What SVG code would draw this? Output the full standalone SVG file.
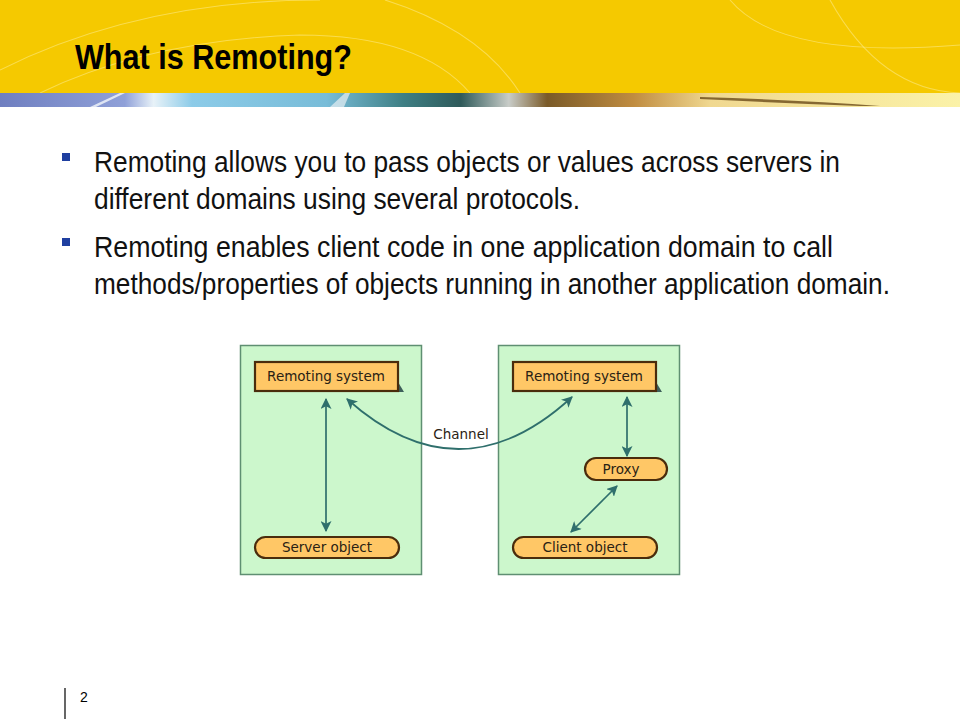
<svg xmlns="http://www.w3.org/2000/svg" width="960" height="720" viewBox="0 0 960 720">
<defs>
<style>
.title{font-family:"Liberation Sans",Arial,sans-serif;font-weight:bold;font-size:35px;fill:#000}
.body{font-family:"Liberation Sans",Arial,sans-serif;font-size:29px;fill:#111}
.lbl{font-family:"DejaVu Sans",Verdana,sans-serif;font-size:13.5px;fill:#2a2214;text-anchor:middle}
.dom{fill:#ccf7cc;stroke:#5f8f72;stroke-width:1.5}
.node{fill:#ffc766;stroke:#4a2c0c;stroke-width:2.2}
.shadow{fill:#3d5f5a}
.conn{fill:none;stroke:#2f6f6c;stroke-width:1.7}
.bullet{fill:#1f3fa0}
.arc{fill:none;stroke:#fff3b0;stroke-width:1.1;opacity:0.45}
</style>
<marker id="ah" viewBox="0 0 10 10" refX="9" refY="5" markerWidth="11" markerHeight="11" markerUnits="userSpaceOnUse" orient="auto-start-reverse">
<path d="M0,0 L10,5 L0,10 L2.5,5 Z" fill="#2f6f6c"/>
</marker>
<linearGradient id="strip" x1="0" y1="0" x2="1" y2="0">
<stop offset="0" stop-color="#6f7fc0"/>
<stop offset="0.13" stop-color="#8fa0d8"/>
<stop offset="0.16" stop-color="#e8f2f8"/>
<stop offset="0.2" stop-color="#8ccbe8"/>
<stop offset="0.34" stop-color="#78bcd8"/>
<stop offset="0.42" stop-color="#3e7f84"/>
<stop offset="0.48" stop-color="#2f5a5a"/>
<stop offset="0.53" stop-color="#c8ccc8"/>
<stop offset="0.57" stop-color="#7a5a28"/>
<stop offset="0.66" stop-color="#c08c40"/>
<stop offset="0.74" stop-color="#f0d890"/>
<stop offset="1" stop-color="#fbf2a8"/>
</linearGradient>
</defs>
<rect width="960" height="720" fill="#fff"/>
<g id="header">
<rect x="0" y="0" width="960" height="94" fill="#f5c900"/>
<path class="arc" d="M40,93 Q150,40 300,35 Q420,35 470,93"/>
<path class="arc" d="M0,70 Q140,0 320,0"/>
<path class="arc" d="M385,0 Q480,30 520,93"/>
<path class="arc" d="M730,0 Q780,60 960,45"/>
<path class="arc" d="M830,0 Q880,90 960,93"/>
<rect x="0" y="93" width="960" height="14" fill="url(#strip)"/>
<path d="M700,97 Q800,100 880,106 L860,106 Q780,103 700,99 Z" fill="#6a4a18" opacity="0.8"/>
<path d="M90,107 L120,93 L125,93 L96,107 Z" fill="#f4f8fb" opacity="0.8"/>
<path d="M330,107 L345,93 L350,93 L344,107 Z" fill="#e8f0f4" opacity="0.7"/>
<text class="title" x="75" y="69" textLength="277" lengthAdjust="spacingAndGlyphs">What is Remoting?</text>
</g>
<g id="bullets">
<rect class="bullet" x="62" y="153" width="8" height="8"/>
<rect class="bullet" x="62" y="238" width="8" height="8"/>
<text class="body" x="94" y="172" textLength="746" lengthAdjust="spacingAndGlyphs">Remoting allows you to pass objects or values across servers in</text>
<text class="body" x="94" y="209" textLength="486" lengthAdjust="spacingAndGlyphs">different domains using several protocols.</text>
<text class="body" x="94" y="257" textLength="739" lengthAdjust="spacingAndGlyphs">Remoting enables client code in one application domain to call</text>
<text class="body" x="94" y="294" textLength="796" lengthAdjust="spacingAndGlyphs">methods/properties of objects running in another application domain.</text>
</g>
<g id="server-domain"><rect class="dom" x="240.5" y="345.5" width="181" height="229"/></g>
<g id="client-domain"><rect class="dom" x="498.5" y="345.5" width="181" height="229"/></g>
<g id="connectors">
<line class="conn" x1="326" y1="399" x2="326" y2="531" marker-start="url(#ah)" marker-end="url(#ah)"/>
<line class="conn" x1="627" y1="397" x2="627" y2="456" marker-start="url(#ah)" marker-end="url(#ah)"/>
<line class="conn" x1="617" y1="486" x2="571" y2="532" marker-start="url(#ah)" marker-end="url(#ah)"/>
<path class="conn" d="M347,399 Q460,500 572,397" marker-start="url(#ah)" marker-end="url(#ah)"/>
<text class="lbl" x="461" y="439">Channel</text>
</g>
<g id="remoting-system-server">
<path class="shadow" d="M398,382 L404,392 L392,392 Z"/>
<rect class="node" x="255" y="362" width="143" height="29"/>
<text class="lbl" x="326" y="381">Remoting system</text>
</g>
<g id="server-object">
<rect class="node" x="255" y="537" width="144" height="21" rx="10.5"/>
<text class="lbl" x="327" y="552">Server object</text>
</g>
<g id="remoting-system-client">
<path class="shadow" d="M656,382 L662,392 L650,392 Z"/>
<rect class="node" x="513" y="362" width="143" height="29"/>
<text class="lbl" x="584" y="381">Remoting system</text>
</g>
<g id="proxy">
<rect class="node" x="585" y="458" width="82" height="22" rx="11"/>
<text class="lbl" x="621" y="474">Proxy</text>
</g>
<g id="client-object">
<rect class="node" x="513" y="537" width="144" height="21" rx="10.5"/>
<text class="lbl" x="585" y="552">Client object</text>
</g>
<g id="footer">
<line x1="65" y1="688" x2="65" y2="719" stroke="#000" stroke-width="1.2"/>
<text x="80" y="702" font-family="'Liberation Sans',Arial,sans-serif" font-size="14" fill="#000">2</text>
</g>
</svg>
